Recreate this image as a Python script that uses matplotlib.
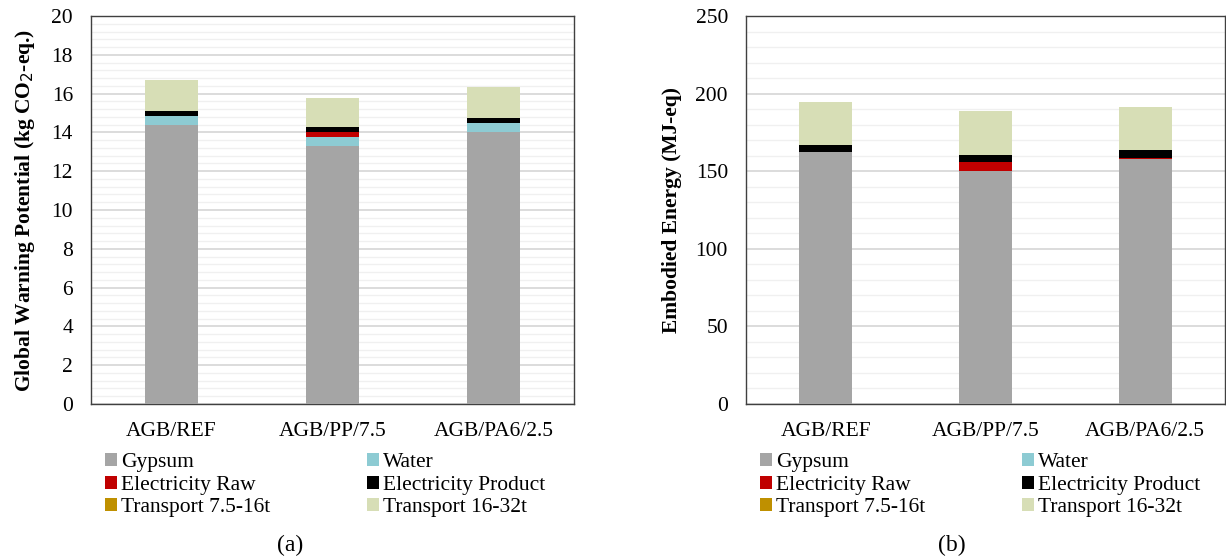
import numpy as np
import matplotlib
matplotlib.use("Agg")
import matplotlib.pyplot as plt
from matplotlib.patches import Patch
from matplotlib.ticker import MultipleLocator

plt.rcParams['font.family'] = ['Liberation Serif', 'DejaVu Serif']

# categories and stacked components
samples = ['AGB/REF', 'AGB/PP/7.5', 'AGB/PA6/2.5']
components = ['Gypsum', 'Water', 'Electricity Raw', 'Electricity Product',
              'Transport 7.5-16t', 'Transport 16-32t']
colours = ['#A5A5A5', '#8DCBD3', '#C00000', '#000000', '#BF9000', '#D7DEB6']

# (a) global warming potential, kg CO2-eq.
gwp_gypsum = [14.36, 13.28, 14.00]
gwp_water = [0.50, 0.48, 0.50]
gwp_elec_raw = [0.00, 0.26, 0.00]
gwp_elec_prod = [0.22, 0.24, 0.26]
gwp_trans_small = [0.00, 0.00, 0.00]
gwp_trans_large = [1.61, 1.51, 1.58]

# (b) embodied energy, MJ-eq
ee_gypsum = [162.2, 150.2, 157.9]
ee_water = [0.2, 0.2, 0.2]
ee_elec_raw = [0.0, 5.6, 0.6]
ee_elec_prod = [4.6, 4.5, 4.7]
ee_trans_small = [0.0, 0.0, 0.0]
ee_trans_large = [27.9, 28.1, 28.1]

gwp = [gwp_gypsum, gwp_water, gwp_elec_raw, gwp_elec_prod, gwp_trans_small, gwp_trans_large]
ee = [ee_gypsum, ee_water, ee_elec_raw, ee_elec_prod, ee_trans_small, ee_trans_large]

FS = 15.5


def stacked(ax, data, ymax, major, minor, ylabel):
    x = np.arange(len(samples))
    bottom = np.zeros(len(samples))
    for vals, col in zip(data, colours):
        ax.bar(x, vals, 0.33, bottom=bottom, color=col, zorder=3)
        bottom += np.array(vals)
    ax.set_xlim(-0.5, 2.5)
    ax.set_ylim(0, ymax)
    ax.yaxis.set_major_locator(MultipleLocator(major))
    ax.yaxis.set_minor_locator(MultipleLocator(minor))
    ax.grid(True, which='major', axis='y', color='#D6D6D6', lw=1.2, zorder=0)
    ax.grid(True, which='minor', axis='y', color='#F0F0F0', lw=1.0, zorder=0)
    ax.set_xticks(x)
    ax.set_xticklabels(samples, fontsize=FS)
    ax.tick_params(axis='both', which='both', length=0, labelsize=FS)
    ax.tick_params(axis='x', pad=13)
    ax.tick_params(axis='y', pad=13)
    for s in ax.spines.values():
        s.set_color('#404040')
        s.set_linewidth(1.0)
    ax.set_ylabel(ylabel, fontsize=FS, fontweight='bold', labelpad=10)
    # row-wise legend order, as in the original
    order = [0, 2, 4, 1, 3, 5]
    handles = [Patch(facecolor=colours[i], label=components[i]) for i in order]
    ax.legend(handles=handles, ncol=2, loc='upper left',
              bbox_to_anchor=(0.029, -0.127), frameon=False, fontsize=FS,
              handlelength=0.55, handleheight=0.55, handletextpad=0.2,
              columnspacing=4.5, labelspacing=0.15, borderaxespad=0.0,
              borderpad=0.0)


fig = plt.figure(figsize=(12.26, 5.6), dpi=100)
ax1 = fig.add_axes([91 / 1226, 1 - 404 / 560, 483 / 1226, 388 / 560])
ax2 = fig.add_axes([746 / 1226, 1 - 404 / 560, 479 / 1226, 388 / 560])

stacked(ax1, gwp, 20, 2, 0.4, r'Global Warning Potential (kg CO$_2$-eq.)')
stacked(ax2, ee, 250, 50, 10, 'Embodied Energy (MJ-eq)')

fig.text(290 / 1226, 1 - 545 / 560, '(a)', fontsize=17, ha='center', va='center')
fig.text(952 / 1226, 1 - 545 / 560, '(b)', fontsize=17, ha='center', va='center')

fig.savefig('out.png', dpi=100)
